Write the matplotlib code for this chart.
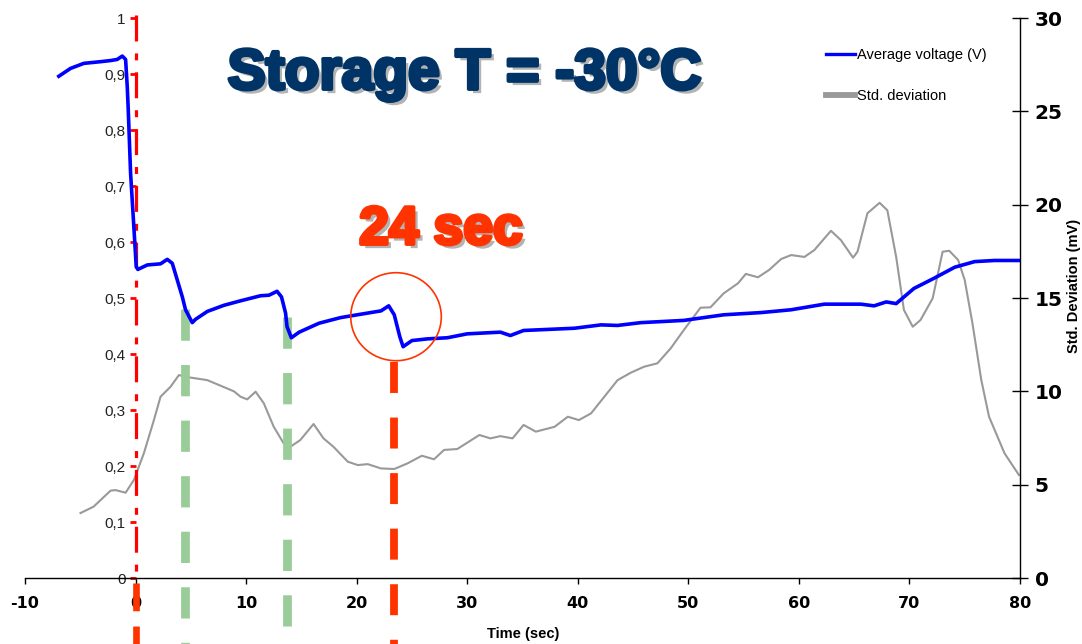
import numpy as np
import matplotlib
matplotlib.use("Agg")
import matplotlib.pyplot as plt
from matplotlib import patheffects as pe
from matplotlib.patches import Ellipse
from matplotlib.lines import Line2D

# ---- data -------------------------------------------------------------
time_voltage = [-6.94, -5.88, -4.68, -3.17, -2.26, -1.66, -1.2, -0.9, -0.75, -0.66,
                -0.45, -0.21, -0.06, 0.06, 0.21, 1.06, 2.26, 2.87, 3.32, 4.23,
                4.52, 5.13, 5.43, 6.49, 8.0, 9.5, 11.3, 12.07, 12.8, 13.2,
                13.57, 13.7, 14.09, 14.8, 16.6, 18.55, 20.36, 22.2, 22.9, 23.4,
                23.9, 24.2, 25.0, 26.4, 28.2, 30.0, 33.0, 33.9, 35.1, 39.7,
                42.1, 43.6, 45.7, 49.6, 53.2, 56.6, 59.3, 62.3, 65.6, 66.8,
                67.9, 68.8, 70.4, 72.2, 74.1, 75.9, 77.7, 80.0]
avg_voltage = [0.896, 0.910, 0.919, 0.922, 0.924, 0.926, 0.932, 0.926, 0.877, 0.836,
               0.723, 0.645, 0.596, 0.556, 0.551, 0.559, 0.561, 0.569, 0.562, 0.502,
               0.479, 0.456, 0.462, 0.476, 0.487, 0.495, 0.504, 0.505, 0.512, 0.502,
               0.473, 0.449, 0.429, 0.439, 0.455, 0.465, 0.471, 0.477, 0.486, 0.470,
               0.431, 0.413, 0.424, 0.427, 0.429, 0.436, 0.439, 0.433, 0.442, 0.446,
               0.452, 0.451, 0.456, 0.460, 0.470, 0.474, 0.479, 0.489, 0.489, 0.486,
               0.493, 0.490, 0.517, 0.535, 0.555, 0.565, 0.567, 0.567]

time_std = [-4.98, -3.8, -2.26, -1.81, -0.9, -0.15, 0.75, 1.66, 2.26, 3.17,
            3.92, 4.82, 6.49, 8.9, 9.5, 10.1, 10.86, 11.6, 12.5, 13.4,
            14.0, 14.9, 16.1, 17.0, 17.9, 19.2, 20.1, 21.0, 22.2, 23.4,
            24.6, 25.9, 27.0, 27.9, 29.1, 31.1, 32.1, 33.0, 34.1, 35.1,
            36.2, 37.9, 39.1, 40.1, 41.2, 42.4, 43.6, 44.8, 46.0, 47.2,
            48.4, 49.6, 51.1, 52.0, 53.2, 54.5, 55.2, 56.3, 57.3, 58.4,
            59.3, 60.5, 61.4, 62.9, 63.8, 64.9, 65.3, 66.2, 67.3, 68.0,
            68.8, 69.5, 70.3, 71.0, 72.1, 73.0, 73.6, 74.4, 75.0, 75.7,
            76.5, 77.2, 78.6, 79.9]
std_dev = [3.48, 3.82, 4.68, 4.71, 4.57, 5.25, 6.68, 8.46, 9.71, 10.25,
           10.87, 10.75, 10.6, 10.0, 9.71, 9.57, 9.98, 9.36, 8.1, 7.21,
           7.03, 7.39, 8.25, 7.48, 7.03, 6.23, 6.05, 6.1, 5.87, 5.84,
           6.14, 6.55, 6.36, 6.86, 6.91, 7.66, 7.48, 7.6, 7.48, 8.2,
           7.84, 8.1, 8.64, 8.46, 8.82, 9.71, 10.6, 11.0, 11.32, 11.5,
           12.3, 13.29, 14.48, 14.5, 15.25, 15.79, 16.29, 16.11, 16.5, 17.09,
           17.3, 17.2, 17.57, 18.6, 18.1, 17.16, 17.48, 19.54, 20.1, 19.7,
           17.2, 14.36, 13.46, 13.82, 14.98, 17.48, 17.53, 17.04, 15.96, 13.64,
           10.6, 8.64, 6.68, 5.52]

x_ticks = [-10, 0, 10, 20, 30, 40, 50, 60, 70, 80]
left_ticks = [0, 0.1, 0.2, 0.3, 0.4, 0.5, 0.6, 0.7, 0.8, 0.9, 1]
left_tick_labels = ["0", "0,1", "0,2", "0,3", "0,4", "0,5", "0,6", "0,7", "0,8", "0,9", "1"]
right_ticks = [0, 5, 10, 15, 20, 25, 30]

step_times = [4.5, 13.7]      # voltage drop steps
event_time = 23.4             # marked event ("24 sec")
event_center = (23.56, 0.4666)

# ---- figure -------------------------------------------------------------
plt.rcParams["lines.scale_dashes"] = False
W, H = 1082, 644
fig = plt.figure(figsize=(W / 100, H / 100), dpi=100)
rect = [25 / W, 66 / H, 995 / W, 560 / H]
ax = fig.add_axes(rect)
ax2 = ax.twinx()
ax.set_zorder(ax2.get_zorder() + 1)
ax.patch.set_visible(False)

ax.set_xlim(-10, 80)
ax.set_ylim(0, 1)
ax2.set_ylim(0, 30)

# std deviation on the right axis
ax2.plot(time_std, std_dev, color="#999999", lw=1.5, solid_joinstyle="round")
# average voltage on the left axis
ax.plot(time_voltage, avg_voltage, color="#0000ff", lw=2.6, solid_joinstyle="round", zorder=5)

# spines
for s in ["top", "right", "left"]:
    ax.spines[s].set_visible(False)
for s in ["top", "left", "bottom"]:
    ax2.spines[s].set_visible(False)
ax.spines["bottom"].set_color("black")
ax.spines["bottom"].set_linewidth(1)
ax2.spines["right"].set_color("black")
ax2.spines["right"].set_linewidth(1)

# x axis
ax.set_xticks(x_ticks)
ax.set_xticklabels([str(t) for t in x_ticks], fontweight="bold", fontsize=11.5,
                   fontfamily="DejaVu Sans")
ax.tick_params(axis="x", direction="out", length=4, width=1, pad=9, color="black")

# left axis crossing at x = 0
ax.yaxis.set_ticks_position("left")
ax.spines["left"].set_position(("data", 0))
ax.set_yticks(left_ticks)
ax.set_yticklabels(left_tick_labels, fontsize=11, fontfamily="Liberation Sans", color="#222222")
ax.tick_params(axis="y", direction="out", length=4, width=2, color="#ff0000", pad=3)

# right axis
ax2.set_yticks(right_ticks)
ax2.set_yticklabels([str(t) for t in right_ticks], fontweight="bold", fontsize=14.5,
                    fontfamily="DejaVu Sans")
ax2.tick_params(axis="y", direction="inout", length=11, width=1, pad=5)

# axis titles
fig.text(523 / W, 1 - 634 / H, "Time (sec)", ha="center", va="center",
         fontsize=10.5, fontweight="bold", fontfamily="Liberation Sans")
fig.text(1067 / W, 1 - 353 / H, "Std. Deviation (mV)", rotation=90, ha="left", va="bottom",
         fontsize=10.5, fontweight="bold", fontfamily="Liberation Sans")

# vertical markers
y_bottom = -0.125
ax.plot([0, 0], [1.005, 0.0], color="#ff0000", lw=2.3, clip_on=False, zorder=4,
        linestyle=(0, (18.7, 8.6, 5, 8.6)))
ax.plot([0, 0], [-0.009, y_bottom], color="#ff3300", lw=4.8, clip_on=False, zorder=4,
        linestyle=(0, (20, 11)))
green_tops = [0.480, 0.466]
for t, top in zip(step_times, green_tops):
    ax.plot([t, t], [top, y_bottom], color="#99cc99", lw=6.3, clip_on=False, zorder=3,
            linestyle=(0, (22.5, 17.5)))
ax.plot([event_time, event_time], [0.386, y_bottom], color="#ff3300", lw=5.6,
        clip_on=False, zorder=3, linestyle=(0, (22.3, 17.7)))

# circle around the event
ax.add_patch(Ellipse(event_center, width=90.5 / 11.05, height=88 / 560, fill=False,
                     edgecolor="#ff3300", lw=1.2, zorder=6))

# legend
handles = [Line2D([], [], color="#0000ff", lw=2.4),
           Line2D([], [], color="#999999", lw=4.2)]
ax.legend(handles, ["Average voltage (V)", "Std. deviation"], loc="upper left",
          bbox_to_anchor=(826 / W, 1 - 48.5 / H), bbox_transform=fig.transFigure,
          frameon=False, handlelength=2.0, handletextpad=0.15,
          labelspacing=1.8, borderpad=0, borderaxespad=0,
          prop={"family": "Liberation Sans", "size": 10.5})

# headline texts with drop shadow
def shadowed(color):
    return [pe.SimplePatchShadow(offset=(3.0, -3.0), shadow_rgbFace="#9a9a9a", alpha=0.75),
            pe.Stroke(linewidth=2.8, foreground=color), pe.Normal()]

fig.text(465 / W, 1 - 89 / H, "Storage T = -30°C", ha="center", va="baseline",
         fontsize=41, fontweight="bold", fontfamily="Liberation Sans", color="#003366",
         path_effects=shadowed("#003366"))
fig.text(441 / W, 1 - 244 / H, "24 sec", ha="center", va="baseline",
         fontsize=38.5, fontweight="bold", fontfamily="Liberation Sans", color="#ff3300",
         path_effects=shadowed("#ff3300"))

fig.savefig("out.png", dpi=100)
